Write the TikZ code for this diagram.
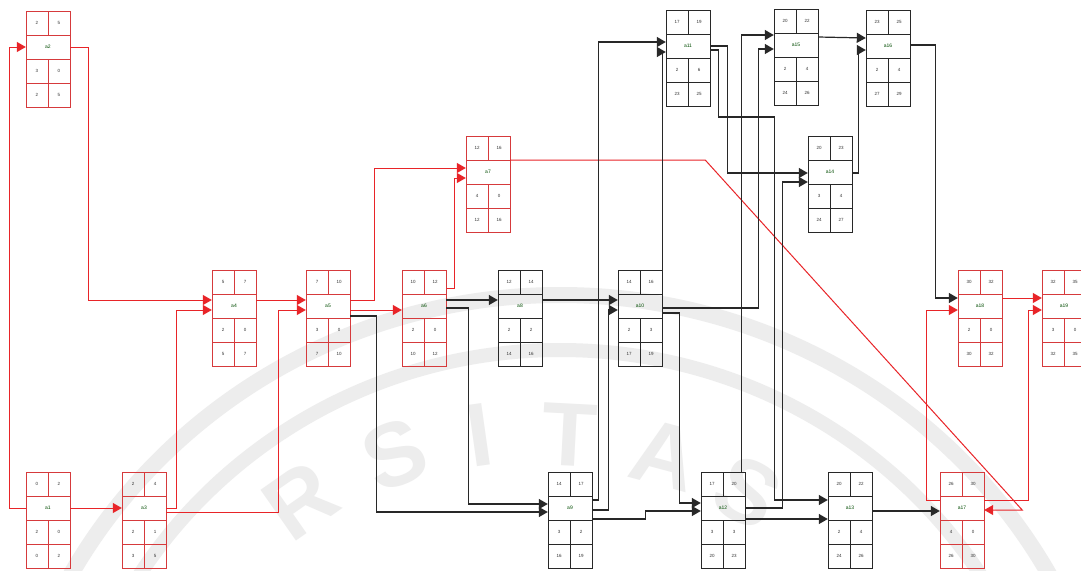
\documentclass[tikz,border=0pt]{standalone}
\usepackage{fontspec}
\setmainfont{Liberation Sans}
\usetikzlibrary{arrows.meta,calc}
\definecolor{cpred}{RGB}{214,58,60}
\definecolor{arrred}{RGB}{232,36,40}
\definecolor{lnblk}{RGB}{40,40,40}
\tikzset{
 redbox/.style={draw=cpred, line width=1pt},
 blkbox/.style={draw=lnblk, line width=1pt},
 cellnum/.style={font=\fontsize{4.5}{5}\selectfont, inner sep=0pt, text=black!80},
 actlabel/.style={font=\fontsize{5}{6}\selectfont, inner sep=0pt, text=black!70!green},
 redcon/.style={draw=arrred, line width=1pt, -{Triangle[length=9pt,width=10pt]}},
 blkcon/.style={draw=lnblk, line width=1.2pt, -{Triangle[length=9pt,width=10pt]}},
 wmark/.style={font=\fontsize{90}{90}\selectfont\bfseries, text=black!7, inner sep=0pt},
}
% box: name, cx, top, style, label
\newcommand{\actbox}[5]{%
 \node[#4, rectangle, minimum width=44pt, minimum height=96pt, inner sep=0pt, anchor=north] (#1) at (#2,#3) {};
 \node[actlabel, minimum width=44pt, minimum height=24pt] (#1m) at (#2,#3+36) {#5};
 \draw[#4] (#2-22,#3+24) -- ++(44,0) (#2-22,#3+48) -- ++(44,0) (#2-22,#3+72) -- ++(44,0)
   (#2,#3) -- ++(0,24) (#2,#3+48) -- ++(0,48);
}
% cells: name, six values
\newcommand{\cellvals}[7]{%
 \node[cellnum] (#1c1) at ($(#1.north)+(-11,12)$) {#2};
 \node[cellnum] (#1c2) at ($(#1.north)+(11,12)$) {#3};
 \node[cellnum] (#1c3) at ($(#1.north)+(-11,60)$) {#4};
 \node[cellnum] (#1c4) at ($(#1.north)+(11,60)$) {#5};
 \node[cellnum] (#1c5) at ($(#1.north)+(-11,84)$) {#6};
 \node[cellnum] (#1c6) at ($(#1.north)+(11,84)$) {#7};
}
\begin{document}
\begin{tikzpicture}[x=1pt,y=-1pt]
\fill[white] (0,0) rectangle (1081,570);
\useasboundingbox (0,0) rectangle (1081,570);
% watermark
\begin{scope}
\clip (0,0) rectangle (1081,570);
\draw[black!7, line width=16pt] (560,840) ellipse [x radius=560, y radius=545];
\draw[black!7, line width=14pt] (560,840) ellipse [x radius=500, y radius=490];
\node[wmark, rotate=35] (wm1) at (300,500) {R};
\node[wmark, rotate=22] (wm2) at (395,455) {S};
\node[wmark, rotate=8] (wm3) at (480,435) {I};
\node[wmark, rotate=-3] (wm4) at (570,435) {T};
\node[wmark, rotate=-15] (wm5) at (665,455) {A};
\node[wmark, rotate=-28] (wm6) at (748,492) {S};
\end{scope}
% boxes
\actbox{a2}{48}{11}{redbox}{a2}
\actbox{a1}{48}{472}{redbox}{a1}
\actbox{a3}{144}{472}{redbox}{a3}
\actbox{a4}{234}{270}{redbox}{a4}
\actbox{a5}{328}{270}{redbox}{a5}
\actbox{a6}{424}{270}{redbox}{a6}
\actbox{a7}{488}{136}{redbox}{a7}
\actbox{a8}{520}{270}{blkbox}{a8}
\actbox{a9}{570}{472}{blkbox}{a9}
\actbox{a10}{640}{270}{blkbox}{a10}
\actbox{a11}{688}{10}{blkbox}{a11}
\actbox{a12}{723}{472}{blkbox}{a12}
\actbox{a15}{796}{9}{blkbox}{a15}
\actbox{a14}{830}{136}{blkbox}{a14}
\actbox{a13}{850}{472}{blkbox}{a13}
\actbox{a16}{888}{10}{blkbox}{a16}
\actbox{a17}{962}{472}{redbox}{a17}
\actbox{a18}{980}{270}{redbox}{a18}
\actbox{a19}{1064}{270}{redbox}{a19}
\cellvals{a1}{0}{2}{2}{0}{0}{2}
\cellvals{a2}{2}{5}{3}{0}{2}{5}
\cellvals{a3}{2}{4}{2}{1}{3}{5}
\cellvals{a4}{5}{7}{2}{0}{5}{7}
\cellvals{a5}{7}{10}{3}{0}{7}{10}
\cellvals{a6}{10}{12}{2}{0}{10}{12}
\cellvals{a7}{12}{16}{4}{0}{12}{16}
\cellvals{a8}{12}{14}{2}{2}{14}{16}
\cellvals{a9}{14}{17}{3}{2}{16}{19}
\cellvals{a10}{14}{16}{2}{3}{17}{19}
\cellvals{a11}{17}{19}{2}{6}{23}{25}
\cellvals{a12}{17}{20}{3}{3}{20}{23}
\cellvals{a13}{20}{22}{2}{4}{24}{26}
\cellvals{a14}{20}{23}{3}{4}{24}{27}
\cellvals{a15}{20}{22}{2}{4}{24}{26}
\cellvals{a16}{23}{25}{2}{4}{27}{29}
\cellvals{a17}{26}{30}{4}{0}{26}{30}
\cellvals{a18}{30}{32}{2}{0}{30}{32}
\cellvals{a19}{32}{35}{3}{0}{32}{35}
% red connectors
\draw[redcon] (a1m.west) -- ++(-16,0) |- (a2m.west);
\draw[redcon] (a2m.east) -- ++(18,0) |- ($(a4m.west)+(0,-6)$);
\draw[redcon] (a1m.east) -- (a3m.west);
\draw[redcon] (a3m.east) -- ++(10,0) |- ($(a4m.west)+(0,4)$);
\draw[redcon] ($(a3m.east)+(0,4)$) -- ++(112,0) |- ($(a5m.west)+(0,4)$);
\draw[redcon] ($(a4m.east)+(0,-6)$) -- ($(a5m.west)+(0,-6)$);
\draw[redcon] ($(a5m.east)+(0,-6)$) -- ++(24,0) |- ($(a7m.west)+(0,-4)$);
\draw[redcon] ($(a5m.east)+(0,4)$) -- ($(a6m.west)+(0,4)$);
\draw[redcon] ($(a6.north east)+(0,18)$) -- ++(8,0) |- ($(a7m.west)+(0,6)$);
\draw[redcon] ($(a7m.east)+(0,-12)$) -- ++(195,0) -- ($(a17m.east)+(38,2)$) -- ($(a17m.east)+(0,2)$);
\draw[redcon] ($(a17m.west)+(0,-8)$) -- ++(-13,0) |- ($(a18m.west)+(0,4)$);
\draw[redcon] ($(a17m.east)+(0,-8)$) -- ++(44,0) |- ($(a19m.west)+(0,4)$);
\draw[redcon] ($(a18m.east)+(0,-8)$) -- ($(a19m.west)+(0,-8)$);
% black connectors
\draw[blkcon] ($(a5m.east)+(0,10)$) -- ++(26,0) |- ($(a9m.west)+(0,4)$);
\draw[blkcon] ($(a6m.east)+(0,-6)$) -- ($(a8m.west)+(0,-6)$);
\draw[blkcon] ($(a6m.east)+(0,2)$) -- ++(22,0) |- ($(a9m.west)+(0,-4)$);
\draw[blkcon] ($(a8m.east)+(0,-6)$) -- ($(a10m.west)+(0,-6)$);
\draw[blkcon] ($(a9m.east)+(0,-8)$) -- ++(6,0) |- ($(a11m.west)+(0,-4)$);
\draw[blkcon] ($(a9m.east)+(0,2)$) -- ++(16,0) |- ($(a10m.west)+(0,4)$);
\draw[blkcon] ($(a9m.east)+(0,11)$) -- ++(53,0) |- ($(a12m.west)+(0,3)$);
\draw[blkcon] (a10.north east) -- ($(a10.north east |- a11m.west)+(0,6)$) -- ($(a11m.west)+(0,6)$);
\draw[blkcon] ($(a10m.east)+(0,7)$) -- ++(17,0) |- ($(a12m.west)+(0,-5)$);
\draw[blkcon] ($(a10m.east)+(0,2)$) -- ++(96,0) |- ($(a15m.west)+(0,4)$);
\draw[blkcon] ($(a12.north east)+(-4,0)$) |- ($(a15m.west)+(0,-10)$);
\draw[blkcon] (a11m.east) -- ++(17,0) |- ($(a14m.west)+(0,1)$);
\draw[blkcon] ($(a11m.east)+(0,4)$) -- ++(8,0) -- ++(0,67) -- ++(56,0) |- ($(a13m.west)+(0,-8)$);
\draw[blkcon] (a12m.east) -- ++(37,0) |- ($(a14m.west)+(0,10)$);
\draw[blkcon] ($(a12m.east)+(0,11)$) -- ($(a13m.west)+(0,11)$);
\draw[blkcon] ($(a15m.east)+(0,-8)$) -- ($(a16m.west)+(0,-8)$);
\draw[blkcon] ($(a14m.east)+(0,1)$) -- ++(6,0) |- ($(a16m.west)+(0,4)$);
\draw[blkcon] ($(a16m.east)+(0,-1)$) -- ++(25,0) |- ($(a18m.west)+(0,-8)$);
\draw[blkcon] ($(a13m.east)+(0,3)$) -- ($(a17m.west)+(0,3)$);
\end{tikzpicture}
\end{document}
